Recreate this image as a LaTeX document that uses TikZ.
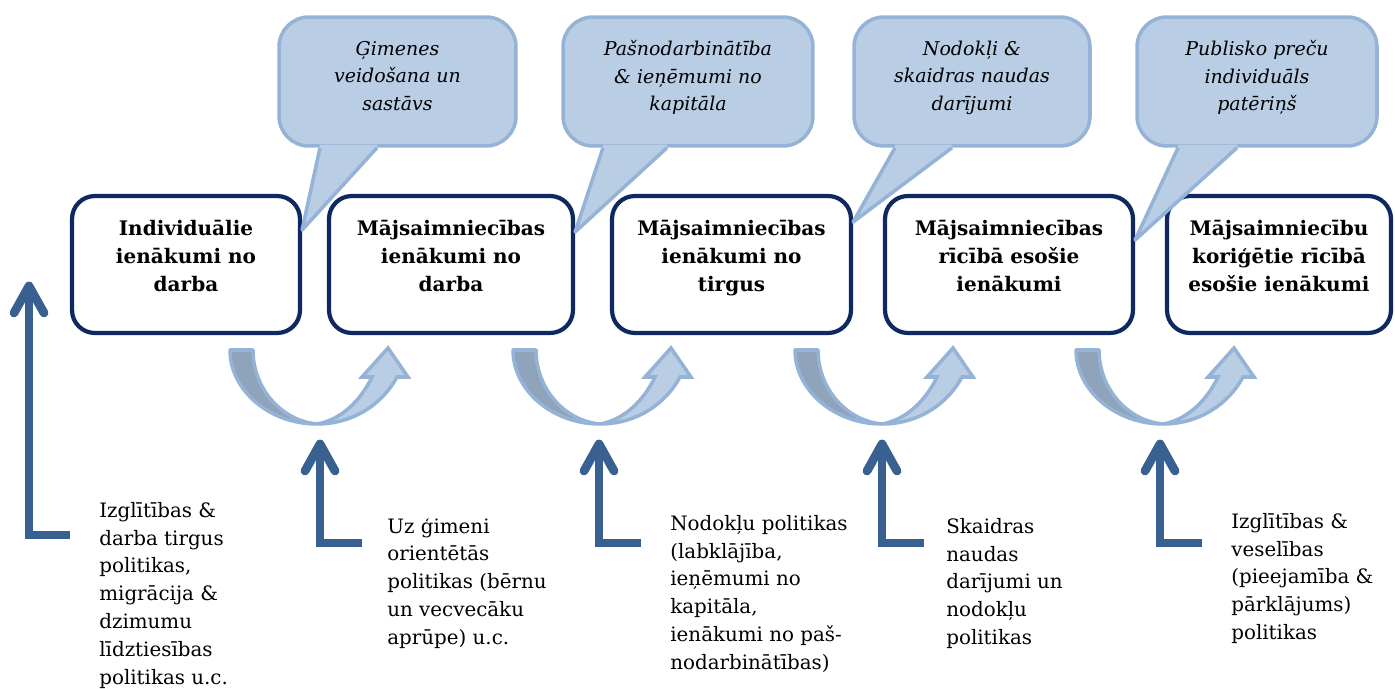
\documentclass[tikz,border=0pt]{standalone}
\usepackage{fontspec}
\setmainfont{DejaVu Serif}
\usepackage{tikz}

\definecolor{boxnavy}{HTML}{0F2862}
\definecolor{notefill}{HTML}{B9CDE5}
\definecolor{noteedge}{HTML}{95B3D7}
\definecolor{turnback}{HTML}{8FA3BB}
\definecolor{polblue}{HTML}{386192}

\tikzset{
    incbox/.style={rectangle, rounded corners=13pt, draw=boxnavy, line width=2.4pt, fill=white,
        minimum height=2.74cm, align=center, text depth=10pt,
        font=\bfseries\fontsize{11.4}{16.1}\selectfont},
    note/.style={rectangle, rounded corners=17pt, draw=noteedge, line width=2pt, fill=notefill,
        minimum height=2.58cm, align=center, text depth=6.5pt,
        font=\itshape\fontsize{10.8}{15.6}\selectfont},
    noteline/.style={draw=noteedge, line width=2pt, line join=round},
    turnleft/.style={draw=noteedge, fill=turnback, line width=2pt, line join=round},
    turnright/.style={draw=noteedge, fill=notefill, line width=2pt, line join=miter},
    polline/.style={draw=polblue, line width=5pt},
    polhead/.style={draw=polblue, line width=5pt, line cap=round, line join=round},
    poltext/.style={anchor=north west, inner sep=0pt, align=left,
        font=\fontsize{11.3}{15.8}\selectfont}
}

\begin{document}
\begin{tikzpicture}[x=0.02cm, y=-0.02cm]
    \useasboundingbox (0,0) rectangle (1395,689);

    % Income stages
    \node[incbox, minimum width=4.56cm] (box1) at (186,264.5) {Individuālie\\ienākumi no\\darba};
    \node[incbox, minimum width=4.88cm] (box2) at (451,264.5) {Mājsaimniecības\\ienākumi no\\darba};
    \node[incbox, minimum width=4.78cm] (box3) at (731.5,264.5) {Mājsaimniecības\\ienākumi no\\tirgus};
    \node[incbox, minimum width=4.96cm] (box4) at (1009,264.5) {Mājsaimniecības\\rīcībā esošie\\ienākumi};
    \node[incbox, minimum width=4.48cm] (box5) at (1279,264.5) {Mājsaimniecību\\koriģētie rīcībā\\esošie ienākumi};

    % Callouts
    \node[note, minimum width=4.74cm] (note1) at (397.5,81.5) {Ģimenes\\veidošana un\\sastāvs};
    \node[note, minimum width=5.0cm] (note2) at (688,81.5) {Pašnodarbinātība\\\& ieņēmumi no\\kapitāla};
    \node[note, minimum width=4.72cm] (note3) at (972,81.5) {Nodokļi \&\\skaidras naudas\\darījumi};
    \node[note, minimum width=4.8cm] (note4) at (1257,81.5) {Publisko preču\\individuāls\\patēriņš};

    \fill[notefill] (note1.south -| 320,0) -- ++(0,-3) -| (note1.south -| 377,0) -- (box1.east |- 0,230) -- cycle;
    \draw[noteline] (note1.south -| 320,0) -- (box1.east |- 0,230) -- (note1.south -| 377,0);
    \fill[notefill] (note2.south -| 603,0) -- ++(0,-3) -| (note2.south -| 667,0) -- (box2.east |- 0,232) -- cycle;
    \draw[noteline] (note2.south -| 603,0) -- (box2.east |- 0,232) -- (note2.south -| 667,0);
    \fill[notefill] (note3.south -| 895,0) -- ++(0,-3) -| (note3.south -| 952,0) -- (box3.east |- 0,222) -- cycle;
    \draw[noteline] (note3.south -| 895,0) -- (box3.east |- 0,222) -- (note3.south -| 952,0);
    \fill[notefill] (note4.south -| 1178,0) -- ++(0,-3) -| (note4.south -| 1237,0) -- (box4.east |- 0,240) -- cycle;
    \draw[noteline] (note4.south -| 1178,0) -- (box4.east |- 0,240) -- (note4.south -| 1237,0);

    % U-turn arrows
    \foreach \x in {230,513,795,1076} {
        \begin{scope}[shift={(\x,0)}]
            \filldraw[turnleft] (0,350) .. controls (0,390) and (39,424) .. (87,424)
                .. controls (52,421) and (23,389) .. (23,350) -- cycle;
            \filldraw[turnright] (87,424) .. controls (122,424) and (152,405) .. (167,377)
                -- (178,377) -- (158,348) -- (132,377) -- (142,377)
                .. controls (130,402) and (110,420) .. (87,424) -- cycle;
        \end{scope}
    }

    % Policy arrows
    \coordinate (polend1) at (70,535);
    \coordinate (poltip1) at (29,288);
    \draw[polline] (polend1) -| (poltip1);
    \draw[polhead] (14,313) -- (29,286) -- (44,313);
    \foreach \x/\n in {320/2,599/3,882/4,1160/5} {
        \coordinate (polend\n) at (\x+42,543);
        \coordinate (poltip\n) at (\x,446);
        \draw[polline] (polend\n) -| (poltip\n);
        \draw[polhead] (\x-15,471) -- (\x,444) -- (\x+15,471);
    }

    % Policy texts
    \node[poltext] (pol1) at (99,502) {Izglītības \&\\darba tirgus\\politikas,\\migrācija \&\\dzimumu\\līdztiesības\\politikas u.c.};
    \node[poltext] (pol2) at (387,518) {Uz ģimeni\\orientētās\\politikas (bērnu\\un vecvecāku\\aprūpe) u.c.};
    \node[poltext] (pol3) at (670,515) {Nodokļu politikas\\(labklājība,\\ieņēmumi no\\kapitāla,\\ienākumi no paš-\\nodarbinātības)};
    \node[poltext] (pol4) at (946,518) {Skaidras\\naudas\\darījumi un\\nodokļu\\politikas};
    \node[poltext] (pol5) at (1231,513) {Izglītības \&\\veselības\\(pieejamība \&\\pārklājums)\\politikas};
\end{tikzpicture}
\end{document}
